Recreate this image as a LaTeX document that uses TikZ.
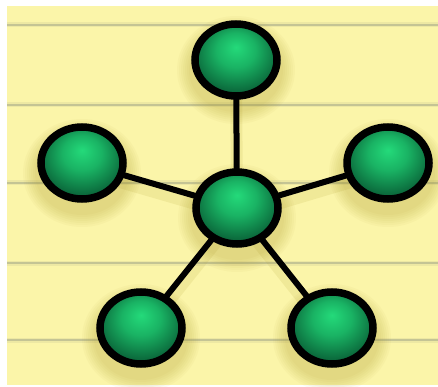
\documentclass[tikz,border=0pt]{standalone}
\usetikzlibrary{shapes.geometric}
\definecolor{paper}{HTML}{FBF5A9}
\definecolor{rule}{HTML}{C4C494}
\definecolor{gl}{HTML}{24DA7A}
\definecolor{gm}{HTML}{15A25A}
\definecolor{gd}{HTML}{0B6A3C}
\definecolor{shad}{HTML}{A89420}
\pgfdeclareradialshading{greenball}{\pgfpoint{0bp}{9bp}}{color(0bp)=(gl); color(12bp)=(gm!70!gl); color(26bp)=(gd); color(50bp)=(gd)}
\pgfdeclarelayer{paperlayer}
\pgfdeclarelayer{shadowlayer}
\pgfdeclarelayer{linklayer}
\pgfsetlayers{paperlayer,shadowlayer,linklayer,main}
\tikzset{
  ball/.style={shape=ellipse, draw=black, line width=7.5pt, shading=greenball, minimum width=82pt, minimum height=72pt, inner sep=0pt},
  link/.style={draw=black, line width=6pt},
  papline/.style={draw=rule, line width=2.5pt},
}
\begin{document}
\begin{tikzpicture}[x=1pt,y=-1pt]
\useasboundingbox (0,0) rectangle (438,387);
\node[ball] (top) at (236,60) {};
\node[ball] (left) at (82,163) {};
\node[ball] (right) at (388,163) {};
\node[ball] (bl) at (141,328) {};
\node[ball] (br) at (332,328) {};
\node[ball] (hub) at (237,208) {};
\begin{pgfonlayer}{linklayer}
\foreach \n in {top,left,right,bl,br} {
  \draw[link] (hub.center) -- (\n.center);
}
\end{pgfonlayer}
\begin{pgfonlayer}{paperlayer}
\fill[white] (0,0) rectangle (438,387);
\fill[paper] (7,6) rectangle (438,385);
\foreach \yy in {25,105,183,263,340} {
  \draw[papline] (7,\yy) -- (438,\yy);
  \draw[rule, line width=5pt, opacity=0.25] (7,\yy) -- (438,\yy);
}
\end{pgfonlayer}
\begin{pgfonlayer}{shadowlayer}
\foreach \n in {top,left,right,bl,br,hub} {
  \foreach \r in {14,12,10,8,6,4,2} {
    \fill[shad, opacity=0.045] ([yshift=-10pt]\n.center) ellipse ({45+\r} and {40+\r});
  }
}
\foreach \n in {top,left,right,bl,br} {
  \draw[shad, opacity=0.12, line width=12pt] ([yshift=-8pt]hub.center) -- ([yshift=-8pt]\n.center);
}
\end{pgfonlayer}
\end{tikzpicture}
\end{document}
